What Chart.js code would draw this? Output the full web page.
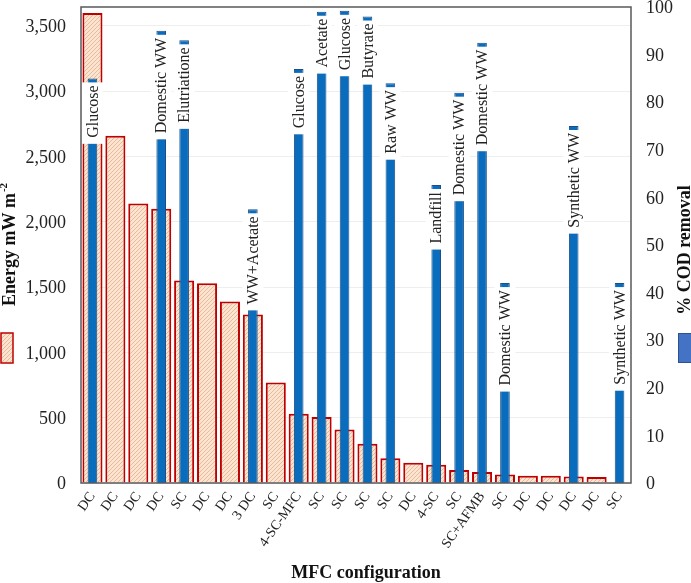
<!DOCTYPE html>
<html>
<head>
<meta charset="utf-8">
<script src="https://cdn.jsdelivr.net/npm/chart.js@4.4.0/dist/chart.umd.min.js"></script>
<style>
  html, body { margin: 0; padding: 0; background: #fff; }
</style>
</head>
<body>
<canvas id="mfcChart" width="691" height="583"></canvas>
<script>
// MFC 구성별 에너지 / COD 제거율
const categories = ['DC', 'DC', 'DC', 'DC', 'SC', 'DC', 'DC', '3 DC', 'SC', '4-SC-MFC', 'SC', 'SC',
  'SC', 'SC', 'DC', '4-SC', 'SC', 'SC+AFMB', 'SC', 'DC', 'DC', 'DC', 'DC', 'SC'];
const energyValues = [3600, 2660, 2140, 2100, 1550, 1530, 1390, 1290, 770, 530, 505, 410,
  300, 190, 155, 140, 100, 85, 65, 55, 55, 50, 45, 3];
const codValues = [85, null, null, 95, 93, null, null, 57.5, null, 87, 99, 99.2,
  98, 84, null, 62.6, 82, 92.5, 42, null, null, 75, null, 42];
const codLabels = ['Glucose', '', '', 'Domestic WW', 'Elutriatione', '', '', 'WW+Acetate', '', 'Glucose', 'Acetate', 'Glucose',
  'Butyrate', 'Raw WW', '', 'Landfill', 'Domestic WW', 'Domestic WW', 'Domestic WW', '', '', 'Synthetic WW', '', 'Synthetic WW'];
const energyTicks = [0, 500, 1000, 1500, 2000, 2500, 3000, 3500];
const codTicks = [0, 10, 20, 30, 40, 50, 60, 70, 80, 90, 100];

const serif = '"Liberation Serif", "Times New Roman", serif';
const ctx = document.getElementById('mfcChart').getContext('2d');

// 빗금 패턴
function makeHatch(c) {
  const tile = document.createElement('canvas');
  tile.width = 4; tile.height = 4;
  const g = tile.getContext('2d');
  g.fillStyle = '#fbe4d0';
  g.fillRect(0, 0, 4, 4);
  g.strokeStyle = '#e3ad8c';
  g.lineWidth = 0.8;
  g.beginPath();
  g.moveTo(0, 4); g.lineTo(4, 0);
  g.moveTo(-1, 1); g.lineTo(1, -1);
  g.moveTo(3, 5); g.lineTo(5, 3);
  g.stroke();
  return c.createPattern(tile, 'repeat');
}
const hatch = makeHatch(ctx);

function noPad(s) {
  s.paddingTop = 0;
  s.paddingBottom = 0;
  s.paddingLeft = 0;
  s.paddingRight = 0;
}

const decorPlugin = {
  id: 'decor',
  afterDatasetsDraw(chart) {
    const c = chart.ctx;
    const meta = chart.getDatasetMeta(0);
    c.save();
    c.font = '16px ' + serif;
    meta.data.forEach((bar, i) => {
      const label = codLabels[i];
      if (!label || codValues[i] == null) return;
      const w = c.measureText(label).width;
      c.save();
      c.translate(bar.x, bar.y + 4);
      c.rotate(-Math.PI / 2);
      c.fillStyle = '#fff';
      c.fillRect(-(w + 9), -10.5, w + 9, 21);
      c.fillStyle = '#222';
      c.textAlign = 'right';
      c.textBaseline = 'middle';
      c.fillText(label, -3, 1);
      c.restore();
    });
    c.restore();
  },
  afterDraw(chart) {
    const c = chart.ctx;
    const a = chart.chartArea;
    c.save();
    // 테두리
    c.strokeStyle = '#595959';
    c.lineWidth = 1.5;
    c.strokeRect(a.left, a.top, a.right - a.left, a.bottom - a.top);

    c.fillStyle = '#111';
    c.font = 'bold 18px ' + serif;
    // x축 제목
    c.textAlign = 'center';
    c.textBaseline = 'alphabetic';
    c.fillText('MFC configuration', 366, 578);

    // 왼쪽 제목
    c.save();
    c.translate(15, 245);
    c.rotate(-Math.PI / 2);
    const main = 'Energy mW m';
    const mw = c.measureText(main).width;
    c.font = 'bold 11px ' + serif;
    const sw = c.measureText('-2').width;
    const total = mw + sw;
    c.textAlign = 'left';
    c.font = 'bold 18px ' + serif;
    c.fillText(main, -total / 2, 0);
    c.font = 'bold 11px ' + serif;
    c.fillText('-2', -total / 2 + mw + 1, -8);
    c.restore();

    // 오른쪽 제목
    c.save();
    c.translate(690, 250);
    c.rotate(-Math.PI / 2);
    c.textAlign = 'center';
    c.font = 'bold 18px ' + serif;
    c.fillText('% COD removal', 0, 0);
    c.restore();

    // 범례 상자
    c.fillStyle = hatch;
    c.fillRect(1, 333, 12, 30);
    c.strokeStyle = '#c00000';
    c.lineWidth = 1.5;
    c.strokeRect(1, 333, 12, 30);
    c.fillStyle = '#4472c4';
    c.fillRect(678, 333, 14, 30);
    c.strokeStyle = '#2f528f';
    c.lineWidth = 1;
    c.strokeRect(678.5, 333.5, 14, 29);
    c.restore();
  }
};

new Chart(ctx, {
  type: 'bar',
  data: {
    labels: categories,
    datasets: [{
      label: '% COD removal',
      data: codValues,
      yAxisID: 'y1',
      order: 0,
      grouped: false,
      backgroundColor: '#0a6cbd',
      borderColor: '#1b4f86',
      borderWidth: 1,
      barPercentage: 0.42,
      categoryPercentage: 1
    }, {
      label: 'Energy mW m-2',
      data: energyValues,
      yAxisID: 'y',
      order: 1,
      grouped: false,
      backgroundColor: hatch,
      borderColor: '#c00000',
      borderWidth: 2,
      barPercentage: 0.875,
      categoryPercentage: 1
    }]
  },
  options: {
    responsive: false,
    animation: false,
    layout: { padding: { top: 7, left: 0, right: 0, bottom: 0 } },
    plugins: {
      legend: { display: false },
      tooltip: { enabled: false }
    },
    scales: {
      x: {
        grid: { display: false, drawTicks: false },
        border: { display: false },
        ticks: {
          autoSkip: false,
          minRotation: 55,
          maxRotation: 55,
          padding: 6,
          color: '#222',
          font: { family: serif, size: 14 }
        },
        afterFit(s) { s.height = 100; noPad(s); }
      },
      y: {
        position: 'left',
        min: 0,
        max: 3645,
        ticks: {
          autoSkip: false,
          padding: 15,
          labelOffset: 1.5,
          color: '#222',
          font: { family: serif, size: 18 },
          callback: v => v.toLocaleString('en-US')
        },
        afterBuildTicks(s) { s.ticks = energyTicks.map(v => ({ value: v })); },
        grid: { color: '#eeeeee', drawTicks: false },
        border: { display: false },
        afterFit(s) { s.width = 81; noPad(s); }
      },
      y1: {
        position: 'right',
        min: 0,
        max: 100,
        ticks: {
          autoSkip: false,
          padding: 15,
          labelOffset: 1.5,
          color: '#222',
          font: { family: serif, size: 18 }
        },
        afterBuildTicks(s) { s.ticks = codTicks.map(v => ({ value: v })); },
        grid: { display: false, drawTicks: false },
        border: { display: false },
        afterFit(s) { s.width = 60; noPad(s); }
      }
    }
  },
  plugins: [decorPlugin]
});
</script>
</body>
</html>
